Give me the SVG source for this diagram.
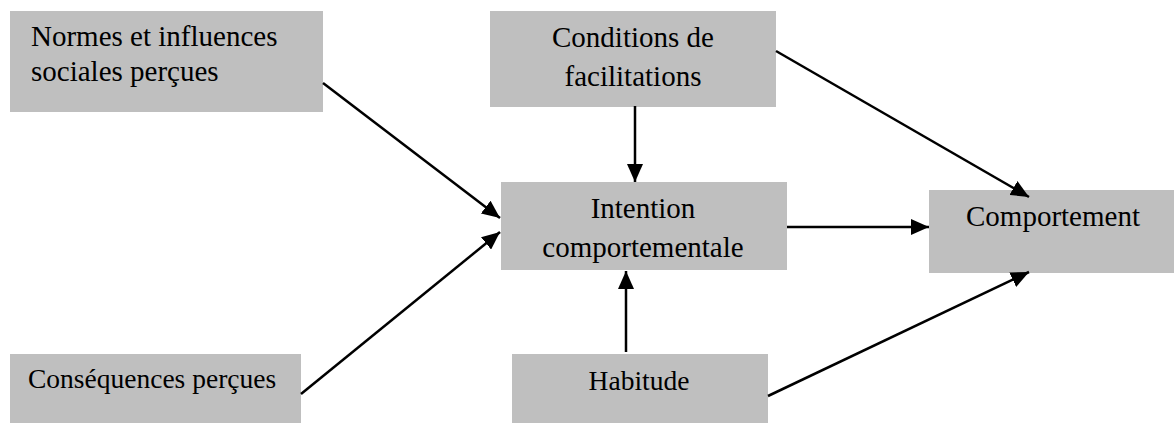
<svg xmlns="http://www.w3.org/2000/svg" width="1174" height="423" viewBox="0 0 1174 423">
<style>
.box{fill:#bfbfbf;}
.t{font-family:"Liberation Serif","Times New Roman",serif;font-size:29px;fill:#000;}
.s{font-size:27.5px;}
.c{text-anchor:middle;}
.ln{stroke:#000;stroke-width:2.5;fill:none;marker-end:url(#ah);}
</style>
<defs>
<marker id="ah" markerUnits="userSpaceOnUse" markerWidth="20" markerHeight="16" refX="18" refY="8" orient="auto">
<path d="M0,0 L18,8 L0,16 Z" fill="#000"/>
</marker>
</defs>
<rect width="1174" height="423" fill="#fff"/>
<g id="normes">
<rect class="box" x="10" y="11" width="313" height="101"/>
<text class="t" x="31" y="46">Normes et influences</text>
<text class="t" x="31" y="81">sociales perçues</text>
</g>
<g id="conditions">
<rect class="box" x="490" y="11" width="286" height="96"/>
<text class="t c" x="633" y="47">Conditions de</text>
<text class="t c" x="633" y="86">facilitations</text>
</g>
<g id="intention">
<rect class="box" x="501" y="182" width="286" height="88"/>
<text class="t c" x="643" y="218">Intention</text>
<text class="t c" x="643" y="257">comportementale</text>
</g>
<g id="comportement">
<rect class="box" x="929" y="190" width="245" height="83"/>
<text class="t c" x="1053" y="226">Comportement</text>
</g>
<g id="consequences">
<rect class="box" x="10" y="354" width="291" height="69"/>
<text class="t s" x="28" y="388">Conséquences perçues</text>
</g>
<g id="habitude">
<rect class="box" x="512" y="354" width="256" height="69"/>
<text class="t s c" x="639" y="390">Habitude</text>
</g>
<g id="connectors">
<line class="ln" x1="323" y1="83" x2="500" y2="218"/>
<line class="ln" x1="301" y1="394" x2="500" y2="232"/>
<line class="ln" x1="635" y1="106" x2="635" y2="182"/>
<line class="ln" x1="626" y1="352" x2="626" y2="271"/>
<line class="ln" x1="787" y1="227" x2="929" y2="227"/>
<line class="ln" x1="776" y1="51" x2="1029" y2="197"/>
<line class="ln" x1="768" y1="396" x2="1029" y2="272"/>
</g>
</svg>
